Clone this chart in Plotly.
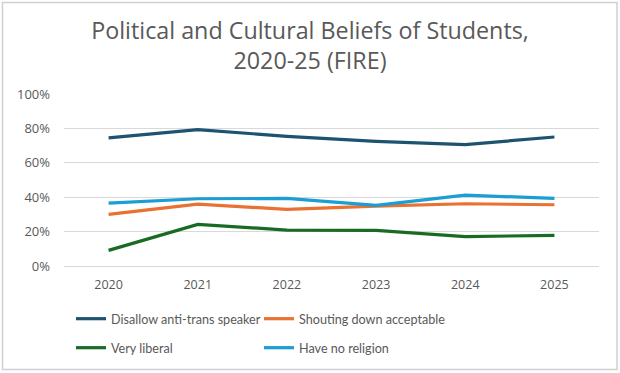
import plotly.graph_objects as go

years = ["2020", "2021", "2022", "2023", "2024", "2025"]
disallow = [74.5, 79.3, 75.4, 72.5, 70.6, 75.0]
shouting = [30.0, 36.0, 32.9, 34.8, 36.2, 35.6]
very_liberal = [9.1, 24.2, 20.9, 20.7, 17.1, 17.8]
no_religion = [36.5, 39.1, 39.3, 35.2, 41.2, 39.3]

series = [
    ("Disallow anti-trans speaker", disallow, "#1D5370", "legend"),
    ("Shouting down acceptable", shouting, "#E97132", "legend2"),
    ("Very liberal", very_liberal, "#196B24", "legend3"),
    ("Have no religion", no_religion, "#1A9ED3", "legend4"),
]

fig = go.Figure()
for name, vals, color, leg in series:
    fig.add_trace(go.Scatter(
        x=years, y=vals, mode="lines", name=name,
        line=dict(color=color, width=3.2),
        legend=leg, showlegend=True,
    ))

font_family = "Open Sans, Liberation Sans, sans-serif"
leg_family = "Lato, Open Sans, sans-serif"
L, R, T, B = 64, 21, 94, 107
W, H = 620, 373
pw = W - L - R
ph = H - T - B

def px_x(px):
    return (px - L) / pw

def px_y(py):
    return (H - B - py) / ph

leg_common = dict(
    orientation="h", xanchor="left", yanchor="middle",
    font=dict(family=leg_family, size=12.6, color="#595959"),
    bgcolor="rgba(0,0,0,0)", itemwidth=30,
)

fig.update_layout(
    width=W, height=H,
    showlegend=True,
    margin=dict(l=L, r=R, t=T, b=B, autoexpand=False),
    paper_bgcolor="white", plot_bgcolor="white",
    title=dict(
        text="Political and Cultural Beliefs of Students,<br>2020-25 (FIRE)",
        x=0.5, xanchor="center", y=1 - 39 / H, yanchor="middle",
        font=dict(family=font_family, size=23.3, color="#595959"),
    ),
    xaxis=dict(
        type="category", showgrid=False, showline=False, ticks="",
        tickfont=dict(family=font_family, size=12.5, color="#595959"),
        range=[-0.5, 5.5], ticklabelstandoff=9,
    ),
    yaxis=dict(
        range=[0, 100], dtick=20, ticksuffix="%",
        showgrid=True, gridcolor="#D9D9D9", gridwidth=1,
        zeroline=True, zerolinecolor="#D9D9D9", zerolinewidth=1,
        showline=False, ticks="", ticklabelstandoff=13,
        tickfont=dict(family=font_family, size=13, color="#595959"),
        fixedrange=True,
    ),
    legend=dict(x=px_x(71), y=px_y(319), **leg_common),
    legend2=dict(x=px_x(259), y=px_y(319), **leg_common),
    legend3=dict(x=px_x(71), y=px_y(348), **leg_common),
    legend4=dict(x=px_x(259), y=px_y(348), **leg_common),
    shapes=[dict(
        type="rect", xref="paper", yref="paper",
        x0=px_x(2.5), x1=px_x(617), y0=px_y(369.5), y1=px_y(2.5),
        line=dict(color="#D0D0D0", width=1.5), fillcolor="rgba(0,0,0,0)",
        layer="below",
    )],
)

fig.write_html("out.html", config={"displayModeBar": False},
               post_script="document.body.style.margin='0';")
